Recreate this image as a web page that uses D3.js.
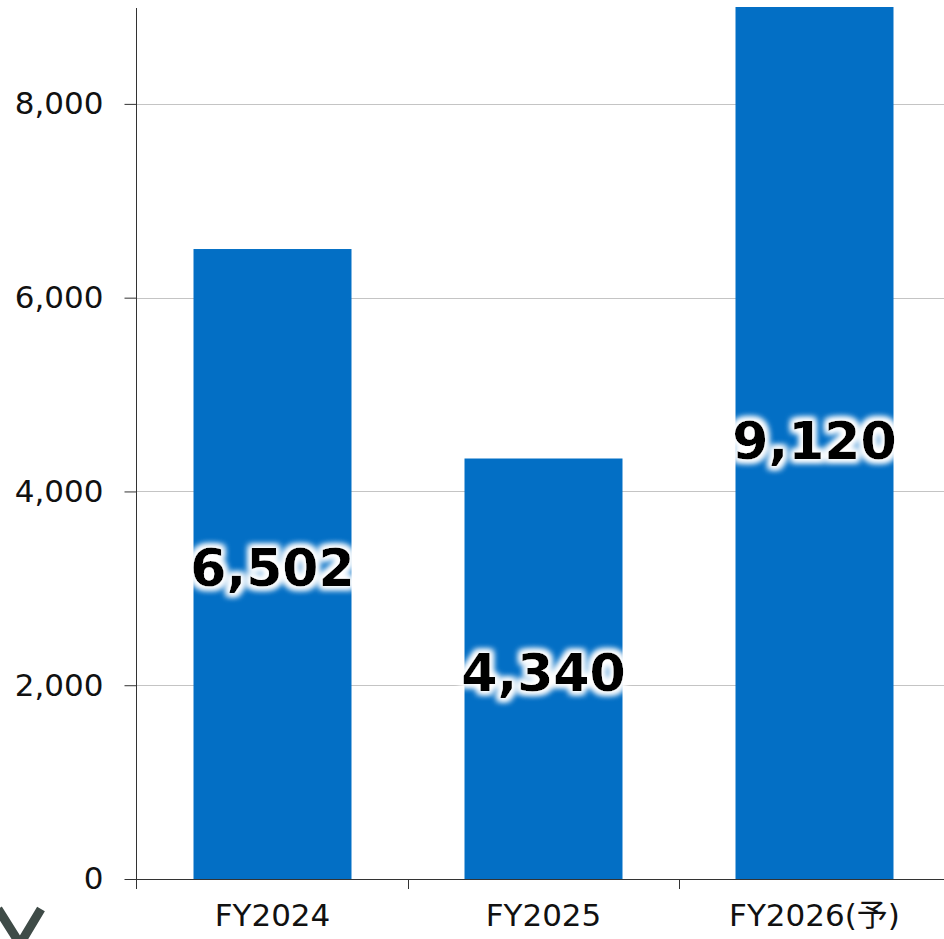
<!DOCTYPE html>
<html>
<head>
<meta charset="utf-8">
<script src="https://cdn.jsdelivr.net/npm/d3@7"></script>
<style>
  html, body { margin: 0; padding: 0; background: #fff; overflow: hidden; }
  text { font-family: "DejaVu Sans", "Noto Sans CJK JP", sans-serif; }
</style>
</head>
<body>
<div class="chart"></div>
<script>
const categories = ['FY2024', 'FY2025', 'FY2026(予)'];
const values = [6502, 4340, 9120];
const yTicks = [0, 2000, 4000, 6000, 8000];

const width = 944;
const height = 939;
const plot = { left: 137, right: 950, top: 7, bottom: 879 };

const svg = d3.select('.chart')
  .append('svg')
    .attr('width', width)
    .attr('height', height);

// white glow behind the value labels
const glow = svg.append('defs').append('filter')
  .attr('id', 'glow')
  .attr('x', '-20%').attr('y', '-40%')
  .attr('width', '140%').attr('height', '180%');
glow.append('feMorphology')
  .attr('in', 'SourceAlpha').attr('operator', 'dilate').attr('radius', 3)
  .attr('result', 'thick');
glow.append('feGaussianBlur')
  .attr('in', 'thick').attr('stdDeviation', 3).attr('result', 'blur');
glow.append('feFlood').attr('flood-color', '#ffffff');
glow.append('feComposite').attr('in2', 'blur').attr('operator', 'in').attr('result', 'halo');
const merge = glow.append('feMerge');
merge.append('feMergeNode').attr('in', 'halo');
merge.append('feMergeNode').attr('in', 'halo');
merge.append('feMergeNode').attr('in', 'SourceGraphic');

const x = d3.scaleBand()
  .domain(categories)
  .range([plot.left, plot.right])
  .paddingInner(0.417)
  .paddingOuter(0.2085);

const y = d3.scaleLinear()
  .domain([0, 9000])
  .range([plot.bottom, plot.top]);

// gridlines
svg.append('g')
  .selectAll('line')
  .data(yTicks.filter(d => d > 0))
  .join('line')
    .attr('x1', plot.left)
    .attr('x2', width)
    .attr('y1', d => Math.round(y(d)) + 0.5)
    .attr('y2', d => Math.round(y(d)) + 0.5)
    .attr('stroke', '#c4c4c4')
    .attr('stroke-width', 1);

// bars
svg.append('g')
  .selectAll('rect')
  .data(values)
  .join('rect')
    .attr('x', (d, i) => x(categories[i]))
    .attr('y', d => y(Math.min(d, 9000)))
    .attr('width', x.bandwidth())
    .attr('height', d => y(0) - y(Math.min(d, 9000)))
    .attr('fill', '#036fc5');

// y axis
const yAxis = svg.append('g')
  .attr('transform', `translate(${plot.left - 0.5},0)`)
  .call(d3.axisLeft(y).tickValues(yTicks).tickSize(12).tickPadding(21).tickFormat(d3.format(',')));
yAxis.select('.domain').remove();
yAxis.selectAll('.tick line').attr('stroke', '#333');
yAxis.selectAll('.tick text')
  .attr('fill', '#111')
  .style('font-size', '31px')
  .style('font-family', '"DejaVu Sans", sans-serif');

svg.append('line')
  .attr('x1', plot.left - 0.5).attr('x2', plot.left - 0.5)
  .attr('y1', plot.top + 1).attr('y2', plot.bottom + 10)
  .attr('stroke', '#333');

// x axis
svg.append('line')
  .attr('x1', plot.left - 12).attr('x2', width)
  .attr('y1', plot.bottom + 0.5).attr('y2', plot.bottom + 0.5)
  .attr('stroke', '#333');

const gap = (x.step() - x.bandwidth()) / 2;
svg.append('g')
  .selectAll('line')
  .data(categories.slice(1).concat(['end']))
  .join('line')
    .attr('x1', (d, i) => Math.round(x(categories[i]) + x.bandwidth() + gap) + 0.5)
    .attr('x2', (d, i) => Math.round(x(categories[i]) + x.bandwidth() + gap) + 0.5)
    .attr('y1', plot.bottom)
    .attr('y2', plot.bottom + 10)
    .attr('stroke', '#333');

svg.append('g')
  .selectAll('text')
  .data(categories)
  .join('text')
    .attr('x', d => x(d) + x.bandwidth() / 2)
    .attr('y', 926)
    .attr('text-anchor', 'middle')
    .attr('fill', '#111')
    .style('font-size', '31px')
    .text(d => d);

// value labels
svg.append('g')
  .selectAll('text')
  .data(values)
  .join('text')
    .attr('x', (d, i) => x(categories[i]) + x.bandwidth() / 2)
    .attr('y', d => y(d / 2))
    .attr('dy', '0.42em')
    .attr('text-anchor', 'middle')
    .attr('fill', '#000')
    .attr('filter', 'url(#glow)')
    .style('font-size', '52px')
    .style('font-weight', 'bold')
    .text(d => d3.format(',')(d));

// partial logo mark at bottom-left
svg.append('path')
  .attr('d', 'M -2 909 L 20 944 L 41 909')
  .attr('fill', 'none')
  .attr('stroke', '#3f4b47')
  .attr('stroke-width', 9);
</script>
</body>
</html>
